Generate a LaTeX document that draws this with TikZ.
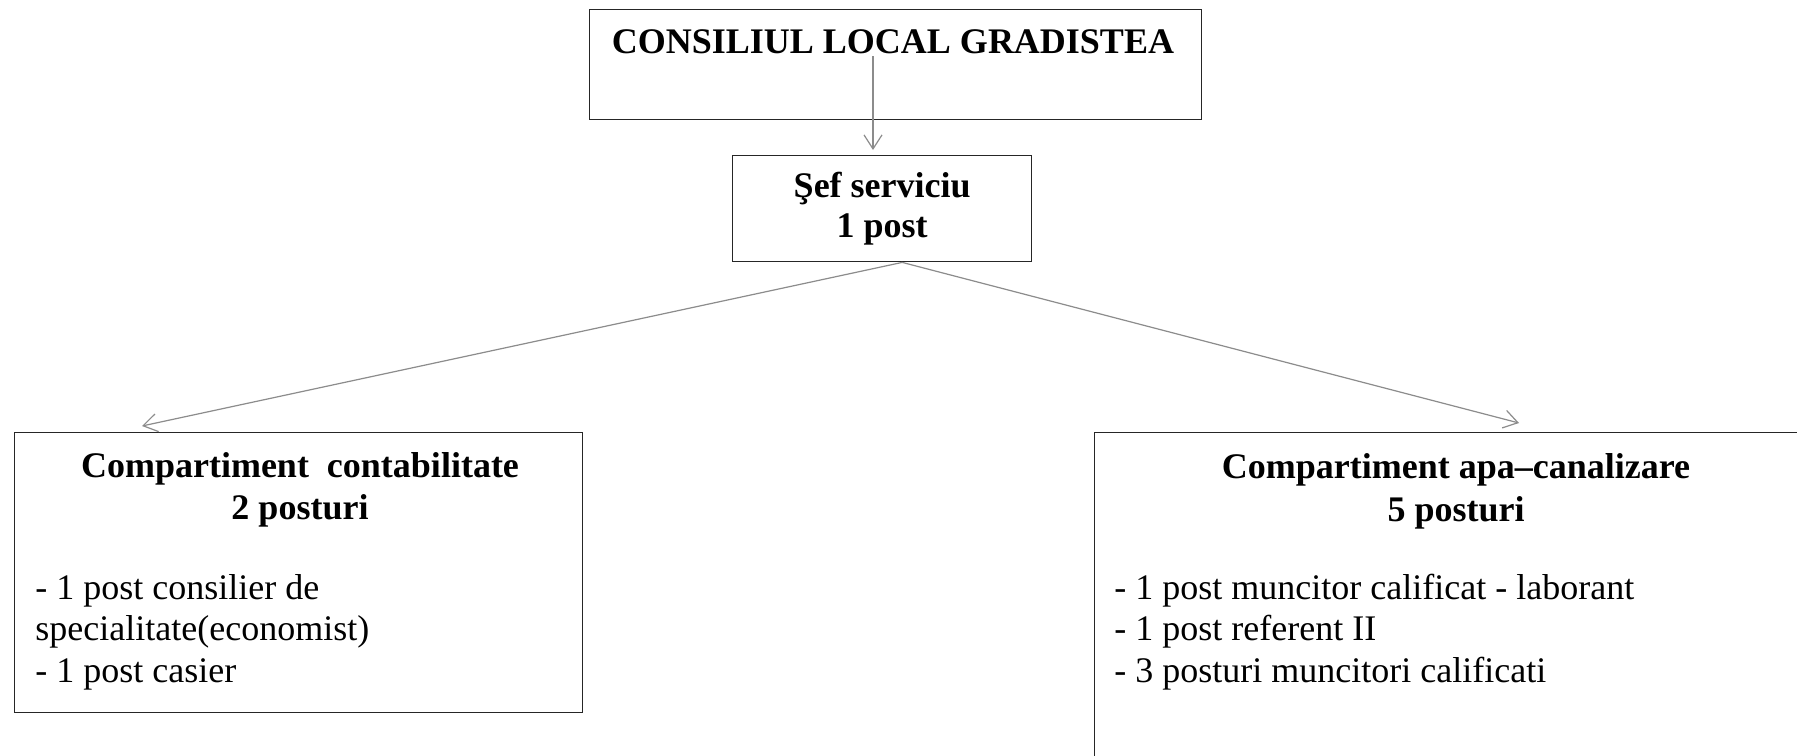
\documentclass[tikz,border=0pt]{standalone}
\usepackage{fontspec}
\setmainfont{Liberation Serif}
\usetikzlibrary{arrows.meta}
\tikzset{
  caseta/.style={draw=black!85, line width=0.7pt, rectangle, inner sep=0pt, anchor=north west},
  sageata/.style={draw=black!45, line width=0.6pt, -{Straight Barb[length=7pt,width=9pt,line width=0.6pt]}},
  gros/.style={font=\fontsize{18}{20}\selectfont\bfseries},
  antet/.style={gros, anchor=base, inner sep=0pt},
  rand/.style={font=\fontsize{18}{19}\selectfont, anchor=base west, inner sep=0pt}
}
\begin{document}
\begin{tikzpicture}[x=0.5pt, y=-0.5pt]
  \useasboundingbox (0,0) rectangle (1797,755);
  \clip (0,0) rectangle (1797,755);
  \fill[white] (0,0) rectangle (1797,755);
  \node[caseta, minimum width=306pt, minimum height=55pt] (consiliu) at (589,9) {};
  \node[antet] (consiliu-t) at (893,54) {CONSILIUL LOCAL GRADISTEA};
  \node[caseta, gros, align=center, minimum width=149.5pt, minimum height=53pt] (sef) at (732,155) {Şef serviciu\\1 post};
  \node[caseta, minimum width=284pt, minimum height=140pt] (contab) at (14,432) {};
  \node[antet] (contab-t1) at (300,477) {Compartiment\ \ contabilitate};
  \node[antet] (contab-t2) at (300,519) {2 posturi};
  \foreach \t [count=\i] in {{- 1 post consilier de}, {specialitate(economist)}, {- 1 post casier}}
    \node[rand] (contab-\i) at (35, 557.5+41.5*\i) {\t};
  \node[caseta, minimum width=363pt, minimum height=174pt] (apa) at (1094,432) {};
  \node[antet] (apa-t1) at (1456,478) {Compartiment apa--canalizare};
  \node[antet] (apa-t2) at (1456,521) {5 posturi};
  \foreach \t [count=\i] in {{- 1 post muncitor calificat - laborant}, {- 1 post referent II}, {- 3 posturi muncitori calificati}}
    \node[rand] (apa-\i) at (1114, 557.5+41.5*\i) {\t};
  \coordinate (pornire) at (873,56);
  \draw[sageata, shorten >=2.5pt] (pornire) -- (sef.north -| pornire);
  \draw[sageata] ([xshift=10pt]sef.south) -- ([xshift=64pt,yshift=3pt]contab.north west);
  \draw[sageata] ([xshift=10pt]sef.south) -- ([xshift=212.5pt,yshift=4.5pt]apa.north west);
\end{tikzpicture}
\end{document}
